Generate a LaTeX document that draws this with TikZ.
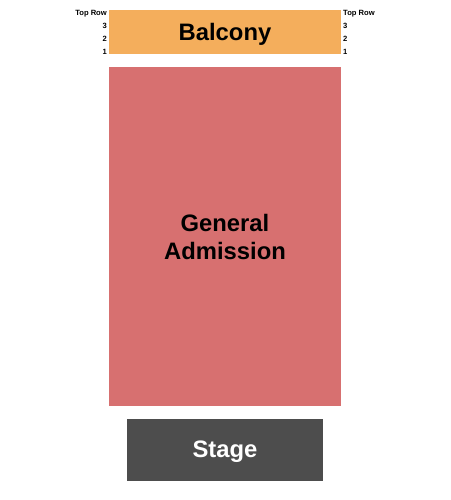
\documentclass[tikz,border=0pt]{standalone}
\usepackage{fontspec}
\setmainfont{Liberation Sans}
\definecolor{balconyc}{HTML}{F4AE5C}
\definecolor{gac}{HTML}{D77070}
\definecolor{stagec}{HTML}{4D4D4D}
\begin{document}
\begin{tikzpicture}[x=1pt,y=-1pt,section/.style={inner sep=0pt,font=\bfseries\fontsize{23.8}{28}\selectfont,align=center},rowlbl/.style={inner sep=0pt,font=\bfseries\fontsize{7.6}{8}\selectfont}]
\useasboundingbox (0,0) rectangle (450,500);
\fill[balconyc] (109,10) rectangle (341,54);
\node[section] (balcony) at (225,34.5) {Balcony};
\fill[gac] (109,67) rectangle (341,406);
\node[section] (ga) at (225,237) {General\\Admission};
\fill[stagec] (127,419) rectangle (323,481);
\node[section,text=white] (stage) at (225,452) {Stage};
\node[rowlbl,anchor=east] (ltop) at (107,13.5) {Top Row};
\node[rowlbl,anchor=east] (l3) at (107,25.5) {3};
\node[rowlbl,anchor=east] (l2) at (107,38.5) {2};
\node[rowlbl,anchor=east] (l1) at (107,51.5) {1};
\node[rowlbl,anchor=west] (rtop) at (343,13.5) {Top Row};
\node[rowlbl,anchor=west] (r3) at (343,25.5) {3};
\node[rowlbl,anchor=west] (r2) at (343,38.5) {2};
\node[rowlbl,anchor=west] (r1) at (343,51.5) {1};
\end{tikzpicture}
\end{document}
